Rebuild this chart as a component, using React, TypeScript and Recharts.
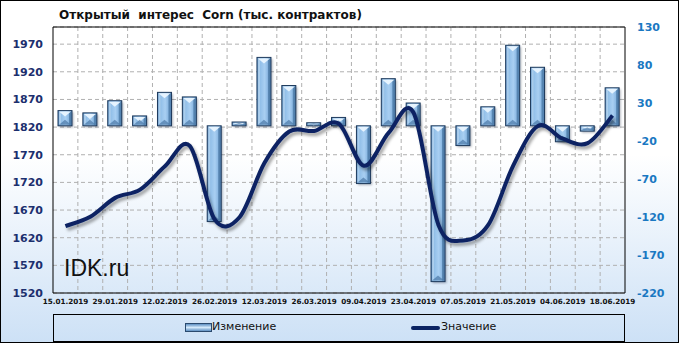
import { ComposedChart, Bar, Line, XAxis, YAxis, CartesianGrid, ReferenceLine } from 'recharts'

const dates = [
  '15.01.2019', '22.01.2019', '29.01.2019', '05.02.2019', '12.02.2019', '19.02.2019',
  '26.02.2019', '05.03.2019', '12.03.2019', '19.03.2019', '26.03.2019', '02.04.2019',
  '09.04.2019', '16.04.2019', '23.04.2019', '30.04.2019', '07.05.2019', '14.05.2019',
  '21.05.2019', '28.05.2019', '04.06.2019', '11.06.2019', '18.06.2019',
]

// open interest, thousand contracts (left axis)
const openInterest = [
  1641, 1658, 1692, 1707, 1749, 1786, 1653, 1657, 1755, 1812, 1813, 1826,
  1750, 1810, 1846, 1643, 1615, 1643, 1750, 1822, 1799, 1791, 1841,
]

// weekly change (right axis)
const weeklyChange = [
  20, 17, 33, 13, 44, 38, -126, 5, 90, 53, 4, 11,
  -76, 62, 30, -205, -26, 25, 106, 77, -21, -7, 50,
]

const leftTicks = [1520, 1570, 1620, 1670, 1720, 1770, 1820, 1870, 1920, 1970]
const rightTicks = [-220, -170, -120, -70, -20, 30, 80, 130]

const data = dates.map((date, i) => ({
  date,
  value: openInterest[i],
  change: weeklyChange[i],
}))

const FONT = '"DejaVu Sans", Verdana, sans-serif'

// Excel-like smoothed line (uniform Catmull-Rom through every point)
const excelSmooth = (context: any) => {
  let pts: number[][] = []
  return {
    areaStart() {},
    areaEnd() {},
    lineStart() { pts = [] },
    lineEnd() {
      if (!pts.length) return
      context.moveTo(pts[0][0], pts[0][1])
      for (let i = 0; i < pts.length - 1; i++) {
        const p0 = pts[i - 1] || pts[i]
        const p1 = pts[i]
        const p2 = pts[i + 1]
        const p3 = pts[i + 2] || p2
        context.bezierCurveTo(
          p1[0] + (p2[0] - p0[0]) / 6, p1[1] + (p2[1] - p0[1]) / 6,
          p2[0] - (p3[0] - p1[0]) / 6, p2[1] - (p3[1] - p1[1]) / 6,
          p2[0], p2[1],
        )
      }
    },
    point(x: number, y: number) { pts.push([+x, +y]) },
  }
}

const BevelBar = (props: any) => {
  const { x, y, width, height } = props
  if (x == null || width == null) return null
  const top = Math.min(y, y + height)
  const h = Math.abs(height)
  const tri = Math.min(5, h / 2)
  return (
    <g>
      <rect x={x + 1.5} y={top + 1.5} width={width} height={h} fill="#15243a" opacity={0.35} filter="url(#barBlur)" />
      <rect x={x} y={top} width={width} height={h} fill="url(#barFill)" stroke="#1e3a5c" strokeWidth={1} />
      <rect x={x + 1} y={top + 1} width={2} height={Math.max(h - 2, 0)} fill="#c8e2f8" opacity={0.6} />
      <rect x={x + width - 3} y={top + 1} width={2} height={Math.max(h - 2, 0)} fill="#3a6792" opacity={0.6} />
      <path d={`M${x + 1},${top + 1} L${x + width - 1},${top + 1} L${x + width / 2},${top + 1 + tri} Z`} fill="#eaf5ff" opacity={0.95} />
      <path d={`M${x + 1},${top + h - 1} L${x + width - 1},${top + h - 1} L${x + width / 2},${top + h - 1 - tri} Z`} fill="#4a78a6" opacity={0.7} />
    </g>
  )
}

export default function App() {
  return (
    <div style={{ position: 'relative', width: 681, height: 344, fontFamily: FONT, overflow: 'hidden' }}>
      <style>{'body{margin:0}'}</style>
      <div
        style={{
          position: 'absolute', left: 0, top: 0, width: 679, height: 343, boxSizing: 'border-box',
          border: '1px solid #000',
          background: 'linear-gradient(to bottom, #ffffff 0%, #ffffff 45%, #cde1f6 100%)',
        }}
      />
      <div style={{ position: 'absolute', left: 59, top: 8, fontSize: 12, fontWeight: 'bold', color: '#111', whiteSpace: 'pre', lineHeight: '14px' }}>
        {'Открытый  интерес  Corn (тыс. контрактов)'}
      </div>

      <div style={{ position: 'absolute', left: 0, top: 0 }}>
        <ComposedChart width={681} height={344} data={data} margin={{ top: 27, right: 0, left: 0, bottom: 21 }}>
          <defs>
            <linearGradient id="barFill" x1="0" y1="0" x2="1" y2="0">
              <stop offset="0%" stopColor="#5e90c3" />
              <stop offset="25%" stopColor="#93c0e9" />
              <stop offset="55%" stopColor="#a9cff2" />
              <stop offset="85%" stopColor="#80b0de" />
              <stop offset="100%" stopColor="#4a79a8" />
            </linearGradient>
            <filter id="barBlur" x="-50%" y="-50%" width="200%" height="200%">
              <feGaussianBlur stdDeviation="1.2" />
            </filter>
            <filter id="lineShadow" x="-10%" y="-10%" width="120%" height="130%">
              <feDropShadow dx="2" dy="3" stdDeviation="1.5" floodColor="#000" floodOpacity="0.35" />
            </filter>
          </defs>
          <CartesianGrid
            yAxisId="left"
            stroke="#b0b0b0"
            strokeDasharray="4 3"
            verticalCoordinatesGenerator={({ offset }: any) =>
              dates.slice(1).map((_, i) => offset.left + ((i + 1) * offset.width) / dates.length)
            }
          />
          <XAxis
            dataKey="date"
            interval={1}
            height={30}
            tickSize={0}
            tickMargin={6}
            axisLine={{ stroke: '#000' }}
            tick={{ fontSize: 7.2, fontWeight: 'bold', fill: '#111', fontFamily: FONT }}
          />
          <YAxis
            yAxisId="left"
            orientation="left"
            width={53}
            domain={[1520, 2001]}
            ticks={leftTicks}
            tickSize={0}
            tickMargin={10}
            axisLine={{ stroke: '#000' }}
            tick={{ fontSize: 11, fontWeight: 'bold', fill: '#1c2f6e', fontFamily: FONT }}
          />
          <YAxis
            yAxisId="right"
            orientation="right"
            width={56}
            domain={[-220, 130]}
            ticks={rightTicks}
            tickSize={0}
            tickMargin={12}
            axisLine={{ stroke: '#000' }}
            tick={{ fontSize: 11, fontWeight: 'bold', fill: '#1a78c2', fontFamily: FONT }}
          />
          <ReferenceLine yAxisId="right" y={130} stroke="#000" />
          <Bar yAxisId="right" dataKey="change" barSize={14} shape={BevelBar} isAnimationActive={false} />
          <Line
            yAxisId="left"
            dataKey="value"
            type={excelSmooth as any}
            stroke="#0b2463"
            strokeWidth={4}
            dot={false}
            activeDot={false}
            filter="url(#lineShadow)"
            isAnimationActive={false}
          />
        </ComposedChart>
      </div>

      <div style={{ position: 'absolute', left: 64, top: 255, fontFamily: '"Liberation Sans", Arial, sans-serif', fontSize: 23, color: '#111' }}>
        IDK.ru
      </div>

      <div style={{ position: 'absolute', left: 53, top: 314, width: 572, height: 28, boxSizing: 'border-box', border: '1px solid #000' }}>
        <div style={{ position: 'absolute', left: 131, top: 8, width: 27, height: 9, boxSizing: 'border-box', border: '1px solid #2a4a6e', background: 'linear-gradient(to bottom, #5d8fc2, #d3e9fb 50%, #5d8fc2)' }} />
        <div style={{ position: 'absolute', left: 158, top: 5, fontSize: 11, color: '#111' }}>Изменение</div>
        <div style={{ position: 'absolute', left: 357, top: 11, width: 29, height: 4, background: '#0b2463', borderRadius: 2 }} />
        <div style={{ position: 'absolute', left: 387, top: 5, fontSize: 11, color: '#111' }}>Значение</div>
      </div>
    </div>
  )
}
